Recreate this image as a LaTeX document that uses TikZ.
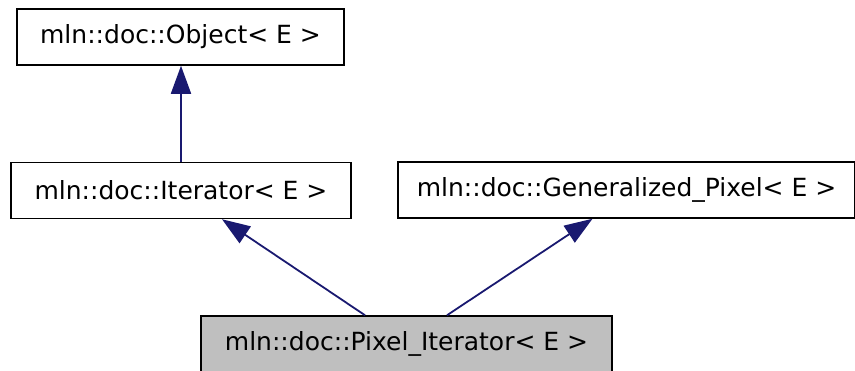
\documentclass[tikz,border=0pt]{standalone}
\usepackage{fontspec}
\setmainfont{DejaVu Sans}
\usetikzlibrary{arrows.meta}
\definecolor{edgeblue}{HTML}{191970}
\tikzset{
  cls/.style={draw=black, line width=1.5pt, inner sep=0pt, font=\fontsize{25}{30}\selectfont, anchor=center},
  inh/.style={draw=edgeblue, line width=1.8pt, -{Triangle[length=28pt,width=20pt]}, color=edgeblue}
}
\begin{document}
\begin{tikzpicture}[x=1pt,y=-1pt]
\useasboundingbox (0,0) rectangle (855,370);
\node[cls, minimum width=327pt, minimum height=56pt] (obj) at (180.5,37) {mln::doc::Object< E >};
\node[cls, minimum width=340pt, minimum height=56pt] (it) at (181,190.5) {mln::doc::Iterator< E >};
\node[cls, minimum width=457pt, minimum height=56pt] (gp) at (626.5,190) {mln::doc::Generalized\_Pixel< E >};
\node[cls, fill=black!25, minimum width=411pt, minimum height=56pt] (pix) at (406.5,344) {mln::doc::Pixel\_Iterator< E >};
\draw[inh] (it.north) -- (it.north |- obj.south);
\draw[inh] ([xshift=-41.5pt]pix.north) -- ([xshift=41pt]it.south);
\draw[inh] ([xshift=40.5pt]pix.north) -- ([xshift=-34pt]gp.south);
\end{tikzpicture}
\end{document}
